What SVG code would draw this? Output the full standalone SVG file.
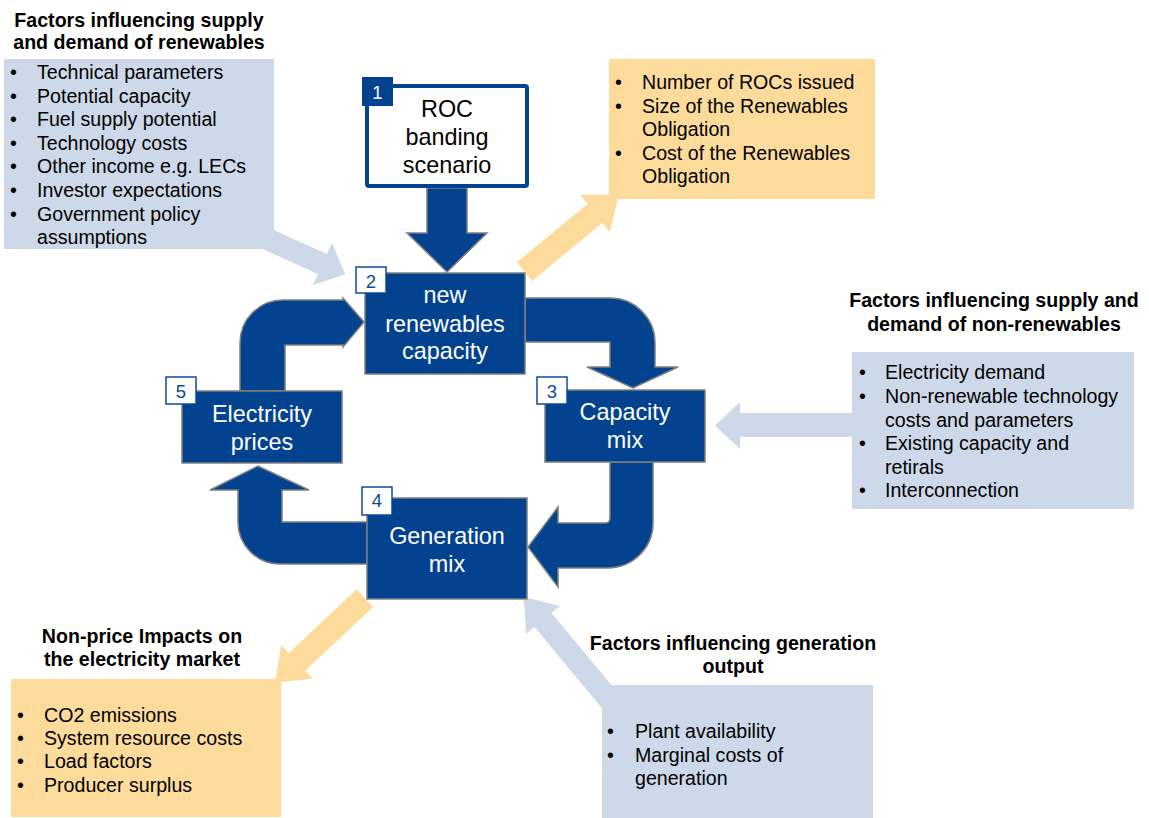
<svg xmlns="http://www.w3.org/2000/svg" width="1149" height="818" viewBox="0 0 1149 818">
<style>
text{font-family:"Liberation Sans",Arial,sans-serif;}
.t{font-size:19.6px;fill:#000;}
.h{font-size:19.6px;font-weight:bold;text-anchor:middle;fill:#000;}
.n{font-size:23.4px;fill:#fff;text-anchor:middle;}
.r{font-size:23.4px;fill:#000;text-anchor:middle;}
.bn{font-size:18.5px;fill:#0B4A9A;text-anchor:middle;}
.lb{fill:#CDD8E8;}
.or{fill:#FDDC9B;}
.bl{fill:#03428F;stroke:#7F7F7F;stroke-width:1.5;}
.badge{fill:#fff;stroke:#0B4A9A;stroke-width:1.5;}
</style>
<g id="connectors">
<polygon class="lb" points="263.2,225.2 327,254 332,243 345.3,274.3 313,285 318,274 254.2,245.2"/>
<polygon class="or" points="517,262.1 587.6,204.1 580.1,194.7 618.6,194.9 609.9,232.3 602.4,222.9 532,280.9"/>
<polygon class="lb" points="860,413 740,413 740,402 715,425.5 740,449 740,437 860,437"/>
<polygon class="or" points="356.7,589.3 288.8,653.2 281.2,645.2 275.1,682.6 312.8,678.8 305.2,670.8 373.1,606.9"/>
<polygon class="lb" points="621.9,697.7 551.5,613 559.9,605.9 523.8,596.9 526.1,634.1 534.5,627 604.9,711.7"/>
<path class="bl" d="M427 188 L467 188 L467 233 L487 233 L447 272 L407 233 L427 233 Z"/>
<path class="bl" d="M525 298 L610 298 A45 45 0 0 1 655 343 L655 367 L678 367 L633 388 L587 367 L610 367 L610 342 L525 342 Z"/>
<path class="bl" d="M610 462 L610 518 Q610 523 605 523 L558 523 L558 507 L528 547 L558 587 L558 568 L608 568 A45 45 0 0 0 653 523 L653 462 Z"/>
<path class="bl" d="M367 522 L282 522 L282 490 L309 490 L258 466 L210 490 L238 490 L238 522 A42 42 0 0 0 280 564 L367 564 Z"/>
<path class="bl" d="M240 391 L240 343 A43 43 0 0 1 283 300 L343 300 L343 298 L364 322 L343 347 L343 345 L285 345 L285 391 Z"/>
</g>
<g id="box-renewables-factors">
<rect class="lb" x="4" y="59" width="270" height="190"/>
<text class="h" x="139" y="27">Factors influencing supply</text>
<text class="h" x="139" y="49">and demand of renewables</text>
<g class="t">
<text x="10" y="79">•</text><text x="37" y="79">Technical parameters</text>
<text x="10" y="102.6">•</text><text x="37" y="102.6">Potential capacity</text>
<text x="10" y="126.2">•</text><text x="37" y="126.2">Fuel supply potential</text>
<text x="10" y="149.8">•</text><text x="37" y="149.8">Technology costs</text>
<text x="10" y="173.4">•</text><text x="37" y="173.4">Other income e.g. LECs</text>
<text x="10" y="197">•</text><text x="37" y="197">Investor expectations</text>
<text x="10" y="220.6">•</text><text x="37" y="220.6">Government policy</text>
<text x="37" y="244.2">assumptions</text>
</g>
</g>
<g id="box-roc-outputs">
<rect class="or" x="609" y="59" width="266" height="140"/>
<g class="t">
<text x="615" y="89.3">•</text><text x="642" y="89.3">Number of ROCs issued</text>
<text x="615" y="112.7">•</text><text x="642" y="112.7">Size of the Renewables</text>
<text x="642" y="136.2">Obligation</text>
<text x="615" y="160">•</text><text x="642" y="160">Cost of the Renewables</text>
<text x="642" y="183.4">Obligation</text>
</g>
</g>
<g id="box-nonrenewables-factors">
<rect class="lb" x="852" y="352" width="282" height="157"/>
<text class="h" x="994" y="307">Factors influencing supply and</text>
<text class="h" x="994" y="331">demand of non-renewables</text>
<g class="t">
<text x="859" y="379.3">•</text><text x="885" y="379.3">Electricity demand</text>
<text x="859" y="403.2">•</text><text x="885" y="403.2">Non-renewable technology</text>
<text x="885" y="426.8">costs and parameters</text>
<text x="859" y="450.4">•</text><text x="885" y="450.4">Existing capacity and</text>
<text x="885" y="473.6">retirals</text>
<text x="859" y="497.3">•</text><text x="885" y="497.3">Interconnection</text>
</g>
</g>
<g id="box-nonprice-impacts">
<rect class="or" x="11" y="679" width="270" height="138"/>
<text class="h" x="142" y="643.3">Non-price Impacts on</text>
<text class="h" x="142" y="666">the electricity market</text>
<g class="t">
<text x="17" y="721.7">•</text><text x="44" y="721.7">CO2 emissions</text>
<text x="17" y="745">•</text><text x="44" y="745">System resource costs</text>
<text x="17" y="768.4">•</text><text x="44" y="768.4">Load factors</text>
<text x="17" y="791.8">•</text><text x="44" y="791.8">Producer surplus</text>
</g>
</g>
<g id="box-generation-factors">
<rect class="lb" x="602" y="685" width="271" height="133"/>
<text class="h" x="733" y="650">Factors influencing generation</text>
<text class="h" x="733" y="673">output</text>
<g class="t">
<text x="607" y="738">•</text><text x="635" y="738">Plant availability</text>
<text x="607" y="761.6">•</text><text x="635" y="761.6">Marginal costs of</text>
<text x="635" y="785.2">generation</text>
</g>
</g>
<g id="node-1">
<rect x="367" y="86" width="160" height="100" rx="2" fill="#fff" stroke="#03428F" stroke-width="4"/>
<rect x="362" y="77" width="31" height="29" fill="#03428F"/>
<text x="377.5" y="99.3" style="font-size:18.5px;fill:#fff;text-anchor:middle">1</text>
<text class="r" x="447" y="116.7">ROC</text>
<text class="r" x="447" y="144.5">banding</text>
<text class="r" x="447" y="172.7">scenario</text>
</g>
<g id="node-2">
<rect class="bl" x="365" y="273" width="160" height="101"/>
<rect class="badge" x="356" y="267" width="30" height="26"/>
<text class="bn" x="371" y="288.3">2</text>
<text class="n" x="445" y="303.3">new</text>
<text class="n" x="445" y="331.5">renewables</text>
<text class="n" x="445" y="358.5">capacity</text>
</g>
<g id="node-3">
<rect class="bl" x="545" y="390" width="160" height="72"/>
<rect class="badge" x="537" y="377" width="30" height="27"/>
<text class="bn" x="552" y="398.3">3</text>
<text class="n" x="625" y="420">Capacity</text>
<text class="n" x="625" y="448.3">mix</text>
</g>
<g id="node-4">
<rect class="bl" x="367" y="498" width="160" height="101"/>
<rect class="badge" x="362" y="487" width="30" height="28"/>
<text class="bn" x="377" y="507.3">4</text>
<text class="n" x="447" y="544">Generation</text>
<text class="n" x="447" y="571.7">mix</text>
</g>
<g id="node-5">
<rect class="bl" x="182" y="391" width="160" height="72"/>
<rect class="badge" x="166" y="377" width="30" height="27"/>
<text class="bn" x="181" y="398.3">5</text>
<text class="n" x="262" y="421.7">Electricity</text>
<text class="n" x="262" y="450">prices</text>
</g>
</svg>
